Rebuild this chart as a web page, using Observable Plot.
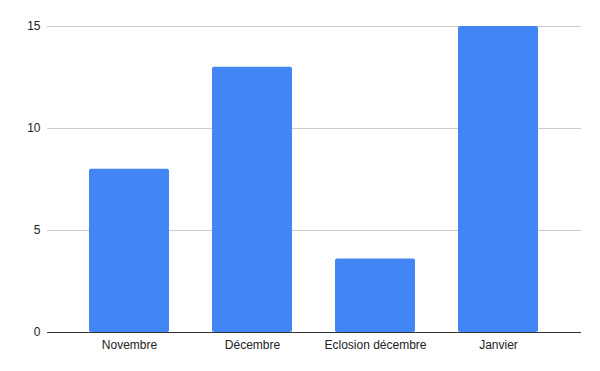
<!DOCTYPE html>
<html>
<head>
<meta charset="utf-8">
<script src="https://cdn.jsdelivr.net/npm/d3@7"></script>
<script src="https://cdn.jsdelivr.net/npm/@observablehq/plot@0.6"></script>
<style>
  html, body { margin: 0; padding: 0; background: #fff; }
  svg { display: block; }
</style>
</head>
<body>
<div id="chart"></div>
<script>
const categories = ["Novembre", "Décembre", "Eclosion décembre", "Janvier"];
const values = [8, 13, 3.6, 15];
const yTicks = [0, 5, 10, 15];

const data = categories.map((c, i) => ({category: c, value: values[i]}));

const chart = Plot.plot({
  width: 600,
  height: 371,
  marginTop: 26,
  marginBottom: 39,
  marginLeft: 47,
  marginRight: 19,
  style: {fontFamily: "Arial, 'Liberation Sans', sans-serif", fontSize: "12px", color: "#222", background: "#fff"},
  x: {domain: categories, paddingInner: 0.35, paddingOuter: 0.175, insetLeft: 20.5, insetRight: 21.5, label: null},
  y: {domain: [0, 15], ticks: yTicks, label: null},
  marks: [
    Plot.gridY(yTicks, {stroke: "#ccc", strokeOpacity: 1, strokeWidth: 1}),
    Plot.rectY(data, {x: "category", y: "value", fill: "#4285f4", rx: 2}),
    Plot.ruleY([0], {stroke: "#333", strokeWidth: 1}),
    Plot.axisY(yTicks, {tickSize: 0, tickPadding: 7, fontSize: 12, fill: "#222"}),
    Plot.axisX({tickSize: 0, tickPadding: 8, fontSize: 12, fill: "#222"})
  ]
});
document.getElementById("chart").appendChild(chart);
</script>
</body>
</html>
